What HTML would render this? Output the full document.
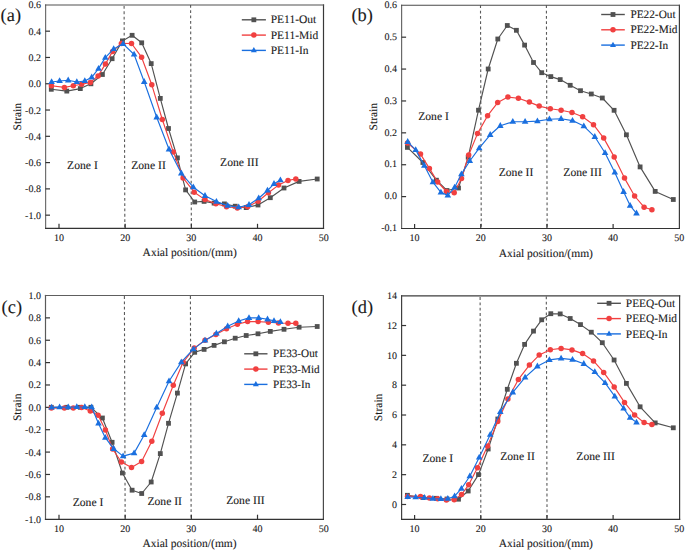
<!DOCTYPE html>
<html><head><meta charset="utf-8"><style>
html,body{margin:0;padding:0;background:#fff;}
svg{display:block;}
text{font-family:"Liberation Serif",serif;fill:#1a1a1a;text-rendering:geometricPrecision;stroke:#1a1a1a;stroke-width:0.1px;}
</style></head><body>
<svg width="685" height="551" viewBox="0 0 685 551">
<rect width="685" height="551" fill="#fff"/>
<line x1="124.1" y1="4.9" x2="124.85" y2="228.3" stroke="#5a5a5a" stroke-width="1.1" stroke-dasharray="2.8 2.53" stroke-dashoffset="-1.1"/>
<line x1="190.6" y1="4.9" x2="191.35" y2="228.3" stroke="#5a5a5a" stroke-width="1.1" stroke-dasharray="2.8 2.53" stroke-dashoffset="0"/>
<line x1="45.6" y1="4.4" x2="45.6" y2="229" stroke="#707070" stroke-width="1.2"/>
<line x1="323.5" y1="4.4" x2="323.5" y2="229" stroke="#383838" stroke-width="1.2"/>
<line x1="45" y1="5" x2="324.1" y2="5" stroke="#505050" stroke-width="1.2"/>
<line x1="45" y1="228.4" x2="324.1" y2="228.4" stroke="#333" stroke-width="1.2"/>
<text x="40.9" y="8.4" text-anchor="end" font-size="10.0">0.6</text>
<line x1="45.5" y1="31.18" x2="50" y2="31.18" stroke="#333" stroke-width="1.2"/>
<text x="40.9" y="34.68" text-anchor="end" font-size="10.0">0.4</text>
<line x1="45.5" y1="57.46" x2="50" y2="57.46" stroke="#333" stroke-width="1.2"/>
<text x="40.9" y="60.96" text-anchor="end" font-size="10.0">0.2</text>
<line x1="45.5" y1="83.75" x2="50" y2="83.75" stroke="#333" stroke-width="1.2"/>
<text x="40.9" y="87.25" text-anchor="end" font-size="10.0">0.0</text>
<line x1="45.5" y1="110.03" x2="50" y2="110.03" stroke="#333" stroke-width="1.2"/>
<text x="40.9" y="113.53" text-anchor="end" font-size="10.0">-0.2</text>
<line x1="45.5" y1="136.31" x2="50" y2="136.31" stroke="#333" stroke-width="1.2"/>
<text x="40.9" y="139.81" text-anchor="end" font-size="10.0">-0.4</text>
<line x1="45.5" y1="162.59" x2="50" y2="162.59" stroke="#333" stroke-width="1.2"/>
<text x="40.9" y="166.09" text-anchor="end" font-size="10.0">-0.6</text>
<line x1="45.5" y1="188.88" x2="50" y2="188.88" stroke="#333" stroke-width="1.2"/>
<text x="40.9" y="192.38" text-anchor="end" font-size="10.0">-0.8</text>
<line x1="45.5" y1="215.16" x2="50" y2="215.16" stroke="#333" stroke-width="1.2"/>
<text x="40.9" y="218.66" text-anchor="end" font-size="10.0">-1.0</text>
<line x1="59" y1="228.3" x2="59" y2="223.8" stroke="#333" stroke-width="1.2"/>
<text x="59" y="241.3" text-anchor="middle" font-size="10.0">10</text>
<line x1="125.17" y1="228.3" x2="125.17" y2="223.8" stroke="#333" stroke-width="1.2"/>
<text x="125.17" y="241.3" text-anchor="middle" font-size="10.0">20</text>
<line x1="191.34" y1="228.3" x2="191.34" y2="223.8" stroke="#333" stroke-width="1.2"/>
<text x="191.34" y="241.3" text-anchor="middle" font-size="10.0">30</text>
<line x1="257.51" y1="228.3" x2="257.51" y2="223.8" stroke="#333" stroke-width="1.2"/>
<text x="257.51" y="241.3" text-anchor="middle" font-size="10.0">40</text>
<text x="323.68" y="241.3" text-anchor="middle" font-size="10.0">50</text>
<polyline points="51.3,89.3 66.8,91.1 80.3,88.6 90.9,83.8 102.4,74.5 112.1,58.7 122.4,40.9 132.1,35.3 141.7,42.8 151.2,63.6 160.3,98.4 168.5,128.5 177.4,157.9 185.6,189.9 194.7,202 204.1,201.4 214.1,203.1 224.4,203.9 235.2,206.2 246.2,207.6 258,205 270.3,197.7 284,188 299.1,181.4 317.2,179" fill="none" stroke="#515151" stroke-width="1.15" stroke-linejoin="round"/>
<rect x="48.9" y="86.9" width="4.8" height="4.8" fill="#515151"/>
<rect x="64.4" y="88.7" width="4.8" height="4.8" fill="#515151"/>
<rect x="77.9" y="86.2" width="4.8" height="4.8" fill="#515151"/>
<rect x="88.5" y="81.4" width="4.8" height="4.8" fill="#515151"/>
<rect x="100" y="72.1" width="4.8" height="4.8" fill="#515151"/>
<rect x="109.7" y="56.3" width="4.8" height="4.8" fill="#515151"/>
<rect x="120" y="38.5" width="4.8" height="4.8" fill="#515151"/>
<rect x="129.7" y="32.9" width="4.8" height="4.8" fill="#515151"/>
<rect x="139.3" y="40.4" width="4.8" height="4.8" fill="#515151"/>
<rect x="148.8" y="61.2" width="4.8" height="4.8" fill="#515151"/>
<rect x="157.9" y="96" width="4.8" height="4.8" fill="#515151"/>
<rect x="166.1" y="126.1" width="4.8" height="4.8" fill="#515151"/>
<rect x="175" y="155.5" width="4.8" height="4.8" fill="#515151"/>
<rect x="183.2" y="187.5" width="4.8" height="4.8" fill="#515151"/>
<rect x="192.3" y="199.6" width="4.8" height="4.8" fill="#515151"/>
<rect x="201.7" y="199" width="4.8" height="4.8" fill="#515151"/>
<rect x="211.7" y="200.7" width="4.8" height="4.8" fill="#515151"/>
<rect x="222" y="201.5" width="4.8" height="4.8" fill="#515151"/>
<rect x="232.8" y="203.8" width="4.8" height="4.8" fill="#515151"/>
<rect x="243.8" y="205.2" width="4.8" height="4.8" fill="#515151"/>
<rect x="255.6" y="202.6" width="4.8" height="4.8" fill="#515151"/>
<rect x="267.9" y="195.3" width="4.8" height="4.8" fill="#515151"/>
<rect x="281.6" y="185.6" width="4.8" height="4.8" fill="#515151"/>
<rect x="296.7" y="179" width="4.8" height="4.8" fill="#515151"/>
<rect x="314.8" y="176.6" width="4.8" height="4.8" fill="#515151"/>
<polyline points="51.4,85.7 64.4,87.4 73.3,85.7 81.6,84.2 90.3,82.5 98.1,75.9 105.4,64.1 112.6,51.4 121.4,43.4 131.5,43.5 141.6,57.2 151.8,84.8 162.3,119.5 173.3,151.9 183.1,177.9 194.2,192.2 205,199.6 215.9,203.7 226.5,206.8 237.4,208 247.6,206.8 258.1,201.2 268.4,192.7 278.5,185.1 288,180.4 295.8,179" fill="none" stroke="#F14040" stroke-width="1.15" stroke-linejoin="round"/>
<circle cx="51.4" cy="85.7" r="2.75" fill="#F14040"/>
<circle cx="64.4" cy="87.4" r="2.75" fill="#F14040"/>
<circle cx="73.3" cy="85.7" r="2.75" fill="#F14040"/>
<circle cx="81.6" cy="84.2" r="2.75" fill="#F14040"/>
<circle cx="90.3" cy="82.5" r="2.75" fill="#F14040"/>
<circle cx="98.1" cy="75.9" r="2.75" fill="#F14040"/>
<circle cx="105.4" cy="64.1" r="2.75" fill="#F14040"/>
<circle cx="112.6" cy="51.4" r="2.75" fill="#F14040"/>
<circle cx="121.4" cy="43.4" r="2.75" fill="#F14040"/>
<circle cx="131.5" cy="43.5" r="2.75" fill="#F14040"/>
<circle cx="141.6" cy="57.2" r="2.75" fill="#F14040"/>
<circle cx="151.8" cy="84.8" r="2.75" fill="#F14040"/>
<circle cx="162.3" cy="119.5" r="2.75" fill="#F14040"/>
<circle cx="173.3" cy="151.9" r="2.75" fill="#F14040"/>
<circle cx="183.1" cy="177.9" r="2.75" fill="#F14040"/>
<circle cx="194.2" cy="192.2" r="2.75" fill="#F14040"/>
<circle cx="205" cy="199.6" r="2.75" fill="#F14040"/>
<circle cx="215.9" cy="203.7" r="2.75" fill="#F14040"/>
<circle cx="226.5" cy="206.8" r="2.75" fill="#F14040"/>
<circle cx="237.4" cy="208" r="2.75" fill="#F14040"/>
<circle cx="247.6" cy="206.8" r="2.75" fill="#F14040"/>
<circle cx="258.1" cy="201.2" r="2.75" fill="#F14040"/>
<circle cx="268.4" cy="192.7" r="2.75" fill="#F14040"/>
<circle cx="278.5" cy="185.1" r="2.75" fill="#F14040"/>
<circle cx="288" cy="180.4" r="2.75" fill="#F14040"/>
<circle cx="295.8" cy="179" r="2.75" fill="#F14040"/>
<polyline points="51.6,82 59.6,81 68.2,80.3 76.8,82 84.8,81 91.7,77.3 98.5,68.6 105.3,57.6 113.7,48.9 123.1,43.8 134.1,54.5 144.2,81.8 156.7,117.3 169,149.3 181.3,173.3 193.3,187.2 205,195.8 216.4,201.6 227.7,205.6 238.7,207.2 249,204.8 258.7,198.2 267.5,190.5 274,183.8 280.4,180.1" fill="none" stroke="#1A6FDF" stroke-width="1.15" stroke-linejoin="round"/>
<path d="M51.6 78.3L54.9 84.1L48.3 84.1Z" fill="#1A6FDF"/>
<path d="M59.6 77.3L62.9 83.1L56.3 83.1Z" fill="#1A6FDF"/>
<path d="M68.2 76.6L71.5 82.4L64.9 82.4Z" fill="#1A6FDF"/>
<path d="M76.8 78.3L80.1 84.1L73.5 84.1Z" fill="#1A6FDF"/>
<path d="M84.8 77.3L88.1 83.1L81.5 83.1Z" fill="#1A6FDF"/>
<path d="M91.7 73.6L95 79.4L88.4 79.4Z" fill="#1A6FDF"/>
<path d="M98.5 64.9L101.8 70.7L95.2 70.7Z" fill="#1A6FDF"/>
<path d="M105.3 53.9L108.6 59.7L102 59.7Z" fill="#1A6FDF"/>
<path d="M113.7 45.2L117 51L110.4 51Z" fill="#1A6FDF"/>
<path d="M123.1 40.1L126.4 45.9L119.8 45.9Z" fill="#1A6FDF"/>
<path d="M134.1 50.8L137.4 56.6L130.8 56.6Z" fill="#1A6FDF"/>
<path d="M144.2 78.1L147.5 83.9L140.9 83.9Z" fill="#1A6FDF"/>
<path d="M156.7 113.6L160 119.4L153.4 119.4Z" fill="#1A6FDF"/>
<path d="M169 145.6L172.3 151.4L165.7 151.4Z" fill="#1A6FDF"/>
<path d="M181.3 169.6L184.6 175.4L178 175.4Z" fill="#1A6FDF"/>
<path d="M193.3 183.5L196.6 189.3L190 189.3Z" fill="#1A6FDF"/>
<path d="M205 192.1L208.3 197.9L201.7 197.9Z" fill="#1A6FDF"/>
<path d="M216.4 197.9L219.7 203.7L213.1 203.7Z" fill="#1A6FDF"/>
<path d="M227.7 201.9L231 207.7L224.4 207.7Z" fill="#1A6FDF"/>
<path d="M238.7 203.5L242 209.3L235.4 209.3Z" fill="#1A6FDF"/>
<path d="M249 201.1L252.3 206.9L245.7 206.9Z" fill="#1A6FDF"/>
<path d="M258.7 194.5L262 200.3L255.4 200.3Z" fill="#1A6FDF"/>
<path d="M267.5 186.8L270.8 192.6L264.2 192.6Z" fill="#1A6FDF"/>
<path d="M274 180.1L277.3 185.9L270.7 185.9Z" fill="#1A6FDF"/>
<path d="M280.4 176.4L283.7 182.2L277.1 182.2Z" fill="#1A6FDF"/>
<line x1="241.8" y1="19.8" x2="265.9" y2="19.8" stroke="#515151" stroke-width="1.4"/>
<rect x="251.45" y="17.4" width="4.8" height="4.8" fill="#515151"/>
<text x="270.7" y="23.4" font-size="11.5">PE11-Out</text>
<line x1="241.8" y1="35.1" x2="265.9" y2="35.1" stroke="#F14040" stroke-width="1.4"/>
<circle cx="253.85" cy="35.1" r="2.75" fill="#F14040"/>
<text x="270.7" y="38.7" font-size="11.5">PE11-Mid</text>
<line x1="241.8" y1="50.4" x2="265.9" y2="50.4" stroke="#1A6FDF" stroke-width="1.4"/>
<path d="M253.85 47L256.85 52.2L250.85 52.2Z" fill="#1A6FDF"/>
<text x="270.7" y="54" font-size="11.5">PE11-In</text>
<text x="67.1" y="168.6" font-size="11.65">Zone I</text>
<text x="131.2" y="168.6" font-size="11.65">Zone II</text>
<text x="220.1" y="166" font-size="11.65">Zone III</text>
<text x="0.6" y="20.8" font-size="18.4">(a)</text>
<text transform="translate(20.8,116.7) rotate(-90)" text-anchor="middle" font-size="11.5">Strain</text>
<text x="189.7" y="256.2" text-anchor="middle" font-size="11.5">Axial position/(mm)</text>
<line x1="480.5" y1="5.3" x2="481.25" y2="228.5" stroke="#5a5a5a" stroke-width="1.1" stroke-dasharray="2.8 2.53" stroke-dashoffset="0"/>
<line x1="546.4" y1="5.3" x2="547.15" y2="228.5" stroke="#5a5a5a" stroke-width="1.1" stroke-dasharray="2.8 2.53" stroke-dashoffset="0"/>
<line x1="401.6" y1="4.65" x2="401.6" y2="229.1" stroke="#6a6a6a" stroke-width="1.2"/>
<line x1="679.4" y1="4.65" x2="679.4" y2="229.1" stroke="#3c3c3c" stroke-width="1.2"/>
<line x1="401" y1="5.25" x2="680" y2="5.25" stroke="#4a4a4a" stroke-width="1.2"/>
<line x1="401" y1="228.5" x2="680" y2="228.5" stroke="#333" stroke-width="1.2"/>
<text x="397" y="8" text-anchor="end" font-size="10.0">0.6</text>
<line x1="401.6" y1="37.19" x2="406.1" y2="37.19" stroke="#333" stroke-width="1.2"/>
<text x="397" y="39.89" text-anchor="end" font-size="10.0">0.5</text>
<line x1="401.6" y1="69.07" x2="406.1" y2="69.07" stroke="#333" stroke-width="1.2"/>
<text x="397" y="71.77" text-anchor="end" font-size="10.0">0.4</text>
<line x1="401.6" y1="100.96" x2="406.1" y2="100.96" stroke="#333" stroke-width="1.2"/>
<text x="397" y="103.66" text-anchor="end" font-size="10.0">0.3</text>
<line x1="401.6" y1="132.84" x2="406.1" y2="132.84" stroke="#333" stroke-width="1.2"/>
<text x="397" y="135.54" text-anchor="end" font-size="10.0">0.2</text>
<line x1="401.6" y1="164.73" x2="406.1" y2="164.73" stroke="#333" stroke-width="1.2"/>
<text x="397" y="167.43" text-anchor="end" font-size="10.0">0.1</text>
<line x1="401.6" y1="196.61" x2="406.1" y2="196.61" stroke="#333" stroke-width="1.2"/>
<text x="397" y="199.31" text-anchor="end" font-size="10.0">0.0</text>
<text x="397" y="231.2" text-anchor="end" font-size="10.0">-0.1</text>
<line x1="414.6" y1="228.5" x2="414.6" y2="224" stroke="#333" stroke-width="1.2"/>
<text x="414.6" y="241.1" text-anchor="middle" font-size="10.0">10</text>
<line x1="480.77" y1="228.5" x2="480.77" y2="224" stroke="#333" stroke-width="1.2"/>
<text x="480.77" y="241.1" text-anchor="middle" font-size="10.0">20</text>
<line x1="546.94" y1="228.5" x2="546.94" y2="224" stroke="#333" stroke-width="1.2"/>
<text x="546.94" y="241.1" text-anchor="middle" font-size="10.0">30</text>
<line x1="613.11" y1="228.5" x2="613.11" y2="224" stroke="#333" stroke-width="1.2"/>
<text x="613.11" y="241.1" text-anchor="middle" font-size="10.0">40</text>
<text x="679.28" y="241.1" text-anchor="middle" font-size="10.0">50</text>
<polyline points="407.4,147.4 422.9,162.5 436.4,180.2 447,190.5 458.5,188 468.2,157.2 478.5,110.2 488.2,69 497.8,39 507.3,25.5 516.4,30.3 524.6,45.1 533.5,62.5 541.7,72.7 550.8,76.6 560.2,79.6 570.2,85.3 580.5,90.7 591.3,94 602.3,98 614.1,110.3 626.4,134.8 640.1,166.9 655.2,191.4 673.3,199.5" fill="none" stroke="#515151" stroke-width="1.15" stroke-linejoin="round"/>
<rect x="405" y="145" width="4.8" height="4.8" fill="#515151"/>
<rect x="420.5" y="160.1" width="4.8" height="4.8" fill="#515151"/>
<rect x="434" y="177.8" width="4.8" height="4.8" fill="#515151"/>
<rect x="444.6" y="188.1" width="4.8" height="4.8" fill="#515151"/>
<rect x="456.1" y="185.6" width="4.8" height="4.8" fill="#515151"/>
<rect x="465.8" y="154.8" width="4.8" height="4.8" fill="#515151"/>
<rect x="476.1" y="107.8" width="4.8" height="4.8" fill="#515151"/>
<rect x="485.8" y="66.6" width="4.8" height="4.8" fill="#515151"/>
<rect x="495.4" y="36.6" width="4.8" height="4.8" fill="#515151"/>
<rect x="504.9" y="23.1" width="4.8" height="4.8" fill="#515151"/>
<rect x="514" y="27.9" width="4.8" height="4.8" fill="#515151"/>
<rect x="522.2" y="42.7" width="4.8" height="4.8" fill="#515151"/>
<rect x="531.1" y="60.1" width="4.8" height="4.8" fill="#515151"/>
<rect x="539.3" y="70.3" width="4.8" height="4.8" fill="#515151"/>
<rect x="548.4" y="74.2" width="4.8" height="4.8" fill="#515151"/>
<rect x="557.8" y="77.2" width="4.8" height="4.8" fill="#515151"/>
<rect x="567.8" y="82.9" width="4.8" height="4.8" fill="#515151"/>
<rect x="578.1" y="88.3" width="4.8" height="4.8" fill="#515151"/>
<rect x="588.9" y="91.6" width="4.8" height="4.8" fill="#515151"/>
<rect x="599.9" y="95.6" width="4.8" height="4.8" fill="#515151"/>
<rect x="611.7" y="107.9" width="4.8" height="4.8" fill="#515151"/>
<rect x="624" y="132.4" width="4.8" height="4.8" fill="#515151"/>
<rect x="637.7" y="164.5" width="4.8" height="4.8" fill="#515151"/>
<rect x="652.8" y="189" width="4.8" height="4.8" fill="#515151"/>
<rect x="670.9" y="197.1" width="4.8" height="4.8" fill="#515151"/>
<polyline points="407.5,143 420.5,154.1 429.4,168.4 437.7,182 446.4,191.5 454.2,192.7 461.5,178.4 468.7,155 477.5,133.6 487.6,115.7 497.7,102.6 507.9,97.1 518.4,98.2 529.4,102.1 539.2,106.1 550.3,108.8 561.1,110.3 572,112.5 582.6,116.8 593.5,124.7 603.7,138.1 614.2,156.9 624.5,178.1 634.6,196 644.1,207.2 651.9,209.8" fill="none" stroke="#F14040" stroke-width="1.15" stroke-linejoin="round"/>
<circle cx="407.5" cy="143" r="2.75" fill="#F14040"/>
<circle cx="420.5" cy="154.1" r="2.75" fill="#F14040"/>
<circle cx="429.4" cy="168.4" r="2.75" fill="#F14040"/>
<circle cx="437.7" cy="182" r="2.75" fill="#F14040"/>
<circle cx="446.4" cy="191.5" r="2.75" fill="#F14040"/>
<circle cx="454.2" cy="192.7" r="2.75" fill="#F14040"/>
<circle cx="461.5" cy="178.4" r="2.75" fill="#F14040"/>
<circle cx="468.7" cy="155" r="2.75" fill="#F14040"/>
<circle cx="477.5" cy="133.6" r="2.75" fill="#F14040"/>
<circle cx="487.6" cy="115.7" r="2.75" fill="#F14040"/>
<circle cx="497.7" cy="102.6" r="2.75" fill="#F14040"/>
<circle cx="507.9" cy="97.1" r="2.75" fill="#F14040"/>
<circle cx="518.4" cy="98.2" r="2.75" fill="#F14040"/>
<circle cx="529.4" cy="102.1" r="2.75" fill="#F14040"/>
<circle cx="539.2" cy="106.1" r="2.75" fill="#F14040"/>
<circle cx="550.3" cy="108.8" r="2.75" fill="#F14040"/>
<circle cx="561.1" cy="110.3" r="2.75" fill="#F14040"/>
<circle cx="572" cy="112.5" r="2.75" fill="#F14040"/>
<circle cx="582.6" cy="116.8" r="2.75" fill="#F14040"/>
<circle cx="593.5" cy="124.7" r="2.75" fill="#F14040"/>
<circle cx="603.7" cy="138.1" r="2.75" fill="#F14040"/>
<circle cx="614.2" cy="156.9" r="2.75" fill="#F14040"/>
<circle cx="624.5" cy="178.1" r="2.75" fill="#F14040"/>
<circle cx="634.6" cy="196" r="2.75" fill="#F14040"/>
<circle cx="644.1" cy="207.2" r="2.75" fill="#F14040"/>
<circle cx="651.9" cy="209.8" r="2.75" fill="#F14040"/>
<polyline points="407.7,141.8 415.7,149.9 424.3,165.6 432.9,182.2 440.9,192.4 447.8,195.4 454.6,187.4 461.4,174.1 469.8,161 479.2,148.1 490.2,134.8 500.3,125.8 512.8,121.7 525.1,121.7 537.4,121.1 549.4,119.2 561.1,118.8 572.5,120.6 583.8,126.1 594.8,136.8 605.1,153 614.8,172.5 623.6,191.8 630.1,205.6 636.5,213.3" fill="none" stroke="#1A6FDF" stroke-width="1.15" stroke-linejoin="round"/>
<path d="M407.7 138.1L411 143.9L404.4 143.9Z" fill="#1A6FDF"/>
<path d="M415.7 146.2L419 152L412.4 152Z" fill="#1A6FDF"/>
<path d="M424.3 161.9L427.6 167.7L421 167.7Z" fill="#1A6FDF"/>
<path d="M432.9 178.5L436.2 184.3L429.6 184.3Z" fill="#1A6FDF"/>
<path d="M440.9 188.7L444.2 194.5L437.6 194.5Z" fill="#1A6FDF"/>
<path d="M447.8 191.7L451.1 197.5L444.5 197.5Z" fill="#1A6FDF"/>
<path d="M454.6 183.7L457.9 189.5L451.3 189.5Z" fill="#1A6FDF"/>
<path d="M461.4 170.4L464.7 176.2L458.1 176.2Z" fill="#1A6FDF"/>
<path d="M469.8 157.3L473.1 163.1L466.5 163.1Z" fill="#1A6FDF"/>
<path d="M479.2 144.4L482.5 150.2L475.9 150.2Z" fill="#1A6FDF"/>
<path d="M490.2 131.1L493.5 136.9L486.9 136.9Z" fill="#1A6FDF"/>
<path d="M500.3 122.1L503.6 127.9L497 127.9Z" fill="#1A6FDF"/>
<path d="M512.8 118L516.1 123.8L509.5 123.8Z" fill="#1A6FDF"/>
<path d="M525.1 118L528.4 123.8L521.8 123.8Z" fill="#1A6FDF"/>
<path d="M537.4 117.4L540.7 123.2L534.1 123.2Z" fill="#1A6FDF"/>
<path d="M549.4 115.5L552.7 121.3L546.1 121.3Z" fill="#1A6FDF"/>
<path d="M561.1 115.1L564.4 120.9L557.8 120.9Z" fill="#1A6FDF"/>
<path d="M572.5 116.9L575.8 122.7L569.2 122.7Z" fill="#1A6FDF"/>
<path d="M583.8 122.4L587.1 128.2L580.5 128.2Z" fill="#1A6FDF"/>
<path d="M594.8 133.1L598.1 138.9L591.5 138.9Z" fill="#1A6FDF"/>
<path d="M605.1 149.3L608.4 155.1L601.8 155.1Z" fill="#1A6FDF"/>
<path d="M614.8 168.8L618.1 174.6L611.5 174.6Z" fill="#1A6FDF"/>
<path d="M623.6 188.1L626.9 193.9L620.3 193.9Z" fill="#1A6FDF"/>
<path d="M630.1 201.9L633.4 207.7L626.8 207.7Z" fill="#1A6FDF"/>
<path d="M636.5 209.6L639.8 215.4L633.2 215.4Z" fill="#1A6FDF"/>
<line x1="601.2" y1="14.5" x2="624.8" y2="14.5" stroke="#515151" stroke-width="1.4"/>
<rect x="610.6" y="12.1" width="4.8" height="4.8" fill="#515151"/>
<text x="630.4" y="18.1" font-size="11.3">PE22-Out</text>
<line x1="601.2" y1="29.8" x2="624.8" y2="29.8" stroke="#F14040" stroke-width="1.4"/>
<circle cx="613" cy="29.8" r="2.75" fill="#F14040"/>
<text x="630.4" y="33.4" font-size="11.3">PE22-Mid</text>
<line x1="601.2" y1="45.1" x2="624.8" y2="45.1" stroke="#1A6FDF" stroke-width="1.4"/>
<path d="M613 41.7L616 46.9L610 46.9Z" fill="#1A6FDF"/>
<text x="630.4" y="48.7" font-size="11.3">PE22-In</text>
<text x="418.2" y="120" font-size="11.65">Zone I</text>
<text x="498.7" y="175.5" font-size="11.65">Zone II</text>
<text x="563.3" y="175.5" font-size="11.65">Zone III</text>
<text x="351.5" y="21" font-size="18.4">(b)</text>
<text transform="translate(376.9,116.7) rotate(-90)" text-anchor="middle" font-size="11.5">Strain</text>
<text x="545.8" y="256.7" text-anchor="middle" font-size="11.5">Axial position/(mm)</text>
<line x1="124.4" y1="295.5" x2="125.15" y2="519.2" stroke="#5a5a5a" stroke-width="1.1" stroke-dasharray="2.8 2.53" stroke-dashoffset="-0.6"/>
<line x1="190.4" y1="295.5" x2="191.15" y2="519.2" stroke="#5a5a5a" stroke-width="1.1" stroke-dasharray="2.8 2.53" stroke-dashoffset="-0.6"/>
<line x1="45.5" y1="294.9" x2="45.5" y2="519.9" stroke="#5a5a5a" stroke-width="1.2"/>
<line x1="323.4" y1="294.9" x2="323.4" y2="519.9" stroke="#4a4a4a" stroke-width="1.2"/>
<line x1="44.9" y1="295.5" x2="324" y2="295.5" stroke="#5e5e5e" stroke-width="1.2"/>
<line x1="44.9" y1="519.3" x2="324" y2="519.3" stroke="#333" stroke-width="1.2"/>
<text x="40.9" y="299" text-anchor="end" font-size="10.0">1.0</text>
<line x1="45.5" y1="317.87" x2="50" y2="317.87" stroke="#333" stroke-width="1.2"/>
<text x="40.9" y="321.37" text-anchor="end" font-size="10.0">0.8</text>
<line x1="45.5" y1="340.24" x2="50" y2="340.24" stroke="#333" stroke-width="1.2"/>
<text x="40.9" y="343.74" text-anchor="end" font-size="10.0">0.6</text>
<line x1="45.5" y1="362.61" x2="50" y2="362.61" stroke="#333" stroke-width="1.2"/>
<text x="40.9" y="366.11" text-anchor="end" font-size="10.0">0.4</text>
<line x1="45.5" y1="384.98" x2="50" y2="384.98" stroke="#333" stroke-width="1.2"/>
<text x="40.9" y="388.48" text-anchor="end" font-size="10.0">0.2</text>
<line x1="45.5" y1="407.35" x2="50" y2="407.35" stroke="#333" stroke-width="1.2"/>
<text x="40.9" y="410.85" text-anchor="end" font-size="10.0">0.0</text>
<line x1="45.5" y1="429.72" x2="50" y2="429.72" stroke="#333" stroke-width="1.2"/>
<text x="40.9" y="433.22" text-anchor="end" font-size="10.0">-0.2</text>
<line x1="45.5" y1="452.09" x2="50" y2="452.09" stroke="#333" stroke-width="1.2"/>
<text x="40.9" y="455.59" text-anchor="end" font-size="10.0">-0.4</text>
<line x1="45.5" y1="474.46" x2="50" y2="474.46" stroke="#333" stroke-width="1.2"/>
<text x="40.9" y="477.96" text-anchor="end" font-size="10.0">-0.6</text>
<line x1="45.5" y1="496.83" x2="50" y2="496.83" stroke="#333" stroke-width="1.2"/>
<text x="40.9" y="500.33" text-anchor="end" font-size="10.0">-0.8</text>
<text x="40.9" y="522.7" text-anchor="end" font-size="10.0">-1.0</text>
<line x1="59" y1="519.2" x2="59" y2="514.7" stroke="#333" stroke-width="1.2"/>
<text x="59" y="532.2" text-anchor="middle" font-size="10.0">10</text>
<line x1="125.17" y1="519.2" x2="125.17" y2="514.7" stroke="#333" stroke-width="1.2"/>
<text x="125.17" y="532.2" text-anchor="middle" font-size="10.0">20</text>
<line x1="191.34" y1="519.2" x2="191.34" y2="514.7" stroke="#333" stroke-width="1.2"/>
<text x="191.34" y="532.2" text-anchor="middle" font-size="10.0">30</text>
<line x1="257.51" y1="519.2" x2="257.51" y2="514.7" stroke="#333" stroke-width="1.2"/>
<text x="257.51" y="532.2" text-anchor="middle" font-size="10.0">40</text>
<text x="323.68" y="532.2" text-anchor="middle" font-size="10.0">50</text>
<polyline points="51.3,407.3 66.8,407.3 80.3,407.3 90.9,407.3 102.4,418 112.1,442.3 122.4,473 132.1,490.2 141.7,493.5 151.2,482 160.3,453.6 168.5,423.3 177.4,393.1 185.6,363.9 194.7,352.3 204.1,349.4 214.1,345.4 224.4,341.8 235.2,338.2 246.2,335.5 258,333.8 270.3,331.4 284,329.3 299.1,327.2 317.2,326.5" fill="none" stroke="#515151" stroke-width="1.15" stroke-linejoin="round"/>
<rect x="48.9" y="404.9" width="4.8" height="4.8" fill="#515151"/>
<rect x="64.4" y="404.9" width="4.8" height="4.8" fill="#515151"/>
<rect x="77.9" y="404.9" width="4.8" height="4.8" fill="#515151"/>
<rect x="88.5" y="404.9" width="4.8" height="4.8" fill="#515151"/>
<rect x="100" y="415.6" width="4.8" height="4.8" fill="#515151"/>
<rect x="109.7" y="439.9" width="4.8" height="4.8" fill="#515151"/>
<rect x="120" y="470.6" width="4.8" height="4.8" fill="#515151"/>
<rect x="129.7" y="487.8" width="4.8" height="4.8" fill="#515151"/>
<rect x="139.3" y="491.1" width="4.8" height="4.8" fill="#515151"/>
<rect x="148.8" y="479.6" width="4.8" height="4.8" fill="#515151"/>
<rect x="157.9" y="451.2" width="4.8" height="4.8" fill="#515151"/>
<rect x="166.1" y="420.9" width="4.8" height="4.8" fill="#515151"/>
<rect x="175" y="390.7" width="4.8" height="4.8" fill="#515151"/>
<rect x="183.2" y="361.5" width="4.8" height="4.8" fill="#515151"/>
<rect x="192.3" y="349.9" width="4.8" height="4.8" fill="#515151"/>
<rect x="201.7" y="347" width="4.8" height="4.8" fill="#515151"/>
<rect x="211.7" y="343" width="4.8" height="4.8" fill="#515151"/>
<rect x="222" y="339.4" width="4.8" height="4.8" fill="#515151"/>
<rect x="232.8" y="335.8" width="4.8" height="4.8" fill="#515151"/>
<rect x="243.8" y="333.1" width="4.8" height="4.8" fill="#515151"/>
<rect x="255.6" y="331.4" width="4.8" height="4.8" fill="#515151"/>
<rect x="267.9" y="329" width="4.8" height="4.8" fill="#515151"/>
<rect x="281.6" y="326.9" width="4.8" height="4.8" fill="#515151"/>
<rect x="296.7" y="324.8" width="4.8" height="4.8" fill="#515151"/>
<rect x="314.8" y="324.1" width="4.8" height="4.8" fill="#515151"/>
<polyline points="51.4,408.1 64.4,408 73.3,408 81.6,407.5 90.3,411 98.1,415.2 105.4,430 112.6,449 121.4,462 131.5,467.5 141.6,461.5 151.8,441.3 162.3,413.3 173.3,385.2 183.1,362.3 194.2,348.1 205,340.3 215.9,334.5 226.5,328.7 237.4,324.2 247.6,321.6 258.1,321.6 268.4,322.3 278.5,323 288,323.3 295.8,323.3" fill="none" stroke="#F14040" stroke-width="1.15" stroke-linejoin="round"/>
<circle cx="51.4" cy="408.1" r="2.75" fill="#F14040"/>
<circle cx="64.4" cy="408" r="2.75" fill="#F14040"/>
<circle cx="73.3" cy="408" r="2.75" fill="#F14040"/>
<circle cx="81.6" cy="407.5" r="2.75" fill="#F14040"/>
<circle cx="90.3" cy="411" r="2.75" fill="#F14040"/>
<circle cx="98.1" cy="415.2" r="2.75" fill="#F14040"/>
<circle cx="105.4" cy="430" r="2.75" fill="#F14040"/>
<circle cx="112.6" cy="449" r="2.75" fill="#F14040"/>
<circle cx="121.4" cy="462" r="2.75" fill="#F14040"/>
<circle cx="131.5" cy="467.5" r="2.75" fill="#F14040"/>
<circle cx="141.6" cy="461.5" r="2.75" fill="#F14040"/>
<circle cx="151.8" cy="441.3" r="2.75" fill="#F14040"/>
<circle cx="162.3" cy="413.3" r="2.75" fill="#F14040"/>
<circle cx="173.3" cy="385.2" r="2.75" fill="#F14040"/>
<circle cx="183.1" cy="362.3" r="2.75" fill="#F14040"/>
<circle cx="194.2" cy="348.1" r="2.75" fill="#F14040"/>
<circle cx="205" cy="340.3" r="2.75" fill="#F14040"/>
<circle cx="215.9" cy="334.5" r="2.75" fill="#F14040"/>
<circle cx="226.5" cy="328.7" r="2.75" fill="#F14040"/>
<circle cx="237.4" cy="324.2" r="2.75" fill="#F14040"/>
<circle cx="247.6" cy="321.6" r="2.75" fill="#F14040"/>
<circle cx="258.1" cy="321.6" r="2.75" fill="#F14040"/>
<circle cx="268.4" cy="322.3" r="2.75" fill="#F14040"/>
<circle cx="278.5" cy="323" r="2.75" fill="#F14040"/>
<circle cx="288" cy="323.3" r="2.75" fill="#F14040"/>
<circle cx="295.8" cy="323.3" r="2.75" fill="#F14040"/>
<polyline points="51.6,407.4 59.6,407.1 68.2,407.1 76.8,407 84.8,407 91.7,407.2 98.5,423.5 105.3,437.7 113.7,448.8 123.1,456.1 134.1,453.1 144.2,435 156.7,407.5 169,381.2 181.3,362.1 193.3,349.1 205,340.4 216.4,333.5 227.7,326.3 238.7,321 249,317.9 258.7,317.9 267.5,319.3 274,320.9 280.4,322" fill="none" stroke="#1A6FDF" stroke-width="1.15" stroke-linejoin="round"/>
<path d="M51.6 403.7L54.9 409.5L48.3 409.5Z" fill="#1A6FDF"/>
<path d="M59.6 403.4L62.9 409.2L56.3 409.2Z" fill="#1A6FDF"/>
<path d="M68.2 403.4L71.5 409.2L64.9 409.2Z" fill="#1A6FDF"/>
<path d="M76.8 403.3L80.1 409.1L73.5 409.1Z" fill="#1A6FDF"/>
<path d="M84.8 403.3L88.1 409.1L81.5 409.1Z" fill="#1A6FDF"/>
<path d="M91.7 403.5L95 409.3L88.4 409.3Z" fill="#1A6FDF"/>
<path d="M98.5 419.8L101.8 425.6L95.2 425.6Z" fill="#1A6FDF"/>
<path d="M105.3 434L108.6 439.8L102 439.8Z" fill="#1A6FDF"/>
<path d="M113.7 445.1L117 450.9L110.4 450.9Z" fill="#1A6FDF"/>
<path d="M123.1 452.4L126.4 458.2L119.8 458.2Z" fill="#1A6FDF"/>
<path d="M134.1 449.4L137.4 455.2L130.8 455.2Z" fill="#1A6FDF"/>
<path d="M144.2 431.3L147.5 437.1L140.9 437.1Z" fill="#1A6FDF"/>
<path d="M156.7 403.8L160 409.6L153.4 409.6Z" fill="#1A6FDF"/>
<path d="M169 377.5L172.3 383.3L165.7 383.3Z" fill="#1A6FDF"/>
<path d="M181.3 358.4L184.6 364.2L178 364.2Z" fill="#1A6FDF"/>
<path d="M193.3 345.4L196.6 351.2L190 351.2Z" fill="#1A6FDF"/>
<path d="M205 336.7L208.3 342.5L201.7 342.5Z" fill="#1A6FDF"/>
<path d="M216.4 329.8L219.7 335.6L213.1 335.6Z" fill="#1A6FDF"/>
<path d="M227.7 322.6L231 328.4L224.4 328.4Z" fill="#1A6FDF"/>
<path d="M238.7 317.3L242 323.1L235.4 323.1Z" fill="#1A6FDF"/>
<path d="M249 314.2L252.3 320L245.7 320Z" fill="#1A6FDF"/>
<path d="M258.7 314.2L262 320L255.4 320Z" fill="#1A6FDF"/>
<path d="M267.5 315.6L270.8 321.4L264.2 321.4Z" fill="#1A6FDF"/>
<path d="M274 317.2L277.3 323L270.7 323Z" fill="#1A6FDF"/>
<path d="M280.4 318.3L283.7 324.1L277.1 324.1Z" fill="#1A6FDF"/>
<line x1="244.2" y1="353.8" x2="267.5" y2="353.8" stroke="#515151" stroke-width="1.4"/>
<rect x="253.45" y="351.4" width="4.8" height="4.8" fill="#515151"/>
<text x="273.1" y="357.4" font-size="11.2">PE33-Out</text>
<line x1="244.2" y1="369.1" x2="267.5" y2="369.1" stroke="#F14040" stroke-width="1.4"/>
<circle cx="255.85" cy="369.1" r="2.75" fill="#F14040"/>
<text x="273.1" y="372.7" font-size="11.2">PE33-Mid</text>
<line x1="244.2" y1="384.4" x2="267.5" y2="384.4" stroke="#1A6FDF" stroke-width="1.4"/>
<path d="M255.85 381L258.85 386.2L252.85 386.2Z" fill="#1A6FDF"/>
<text x="273.1" y="388" font-size="11.2">PE33-In</text>
<text x="72.7" y="505.8" font-size="11.65">Zone I</text>
<text x="147.4" y="505.4" font-size="11.65">Zone II</text>
<text x="226.2" y="504.3" font-size="11.65">Zone III</text>
<text x="1.6" y="312.6" font-size="18.4">(c)</text>
<text transform="translate(20.8,407.3) rotate(-90)" text-anchor="middle" font-size="11.5">Strain</text>
<text x="189.5" y="546.5" text-anchor="middle" font-size="11.5">Axial position/(mm)</text>
<line x1="480.1" y1="295.7" x2="480.85" y2="519.4" stroke="#5a5a5a" stroke-width="1.1" stroke-dasharray="2.8 2.53" stroke-dashoffset="-1.4"/>
<line x1="546.3" y1="295.7" x2="547.05" y2="519.4" stroke="#5a5a5a" stroke-width="1.1" stroke-dasharray="2.8 2.53" stroke-dashoffset="-0.7"/>
<line x1="401.6" y1="295.35" x2="401.6" y2="520" stroke="#404040" stroke-width="1.2"/>
<line x1="679.6" y1="295.35" x2="679.6" y2="520" stroke="#3c3c3c" stroke-width="1.2"/>
<line x1="401" y1="295.95" x2="680.2" y2="295.95" stroke="#3c3c3c" stroke-width="1.2"/>
<line x1="401" y1="519.4" x2="680.2" y2="519.4" stroke="#333" stroke-width="1.2"/>
<text x="397" y="298.9" text-anchor="end" font-size="10.0">14</text>
<line x1="401.6" y1="325.53" x2="406.1" y2="325.53" stroke="#333" stroke-width="1.2"/>
<text x="397" y="328.73" text-anchor="end" font-size="10.0">12</text>
<line x1="401.6" y1="355.35" x2="406.1" y2="355.35" stroke="#333" stroke-width="1.2"/>
<text x="397" y="358.55" text-anchor="end" font-size="10.0">10</text>
<line x1="401.6" y1="385.18" x2="406.1" y2="385.18" stroke="#333" stroke-width="1.2"/>
<text x="397" y="388.38" text-anchor="end" font-size="10.0">8</text>
<line x1="401.6" y1="415.01" x2="406.1" y2="415.01" stroke="#333" stroke-width="1.2"/>
<text x="397" y="418.21" text-anchor="end" font-size="10.0">6</text>
<line x1="401.6" y1="444.83" x2="406.1" y2="444.83" stroke="#333" stroke-width="1.2"/>
<text x="397" y="448.03" text-anchor="end" font-size="10.0">4</text>
<line x1="401.6" y1="474.66" x2="406.1" y2="474.66" stroke="#333" stroke-width="1.2"/>
<text x="397" y="477.86" text-anchor="end" font-size="10.0">2</text>
<line x1="401.6" y1="504.49" x2="406.1" y2="504.49" stroke="#333" stroke-width="1.2"/>
<text x="397" y="507.69" text-anchor="end" font-size="10.0">0</text>
<line x1="414.6" y1="519.4" x2="414.6" y2="514.9" stroke="#333" stroke-width="1.2"/>
<text x="414.6" y="532" text-anchor="middle" font-size="10.0">10</text>
<line x1="480.77" y1="519.4" x2="480.77" y2="514.9" stroke="#333" stroke-width="1.2"/>
<text x="480.77" y="532" text-anchor="middle" font-size="10.0">20</text>
<line x1="546.94" y1="519.4" x2="546.94" y2="514.9" stroke="#333" stroke-width="1.2"/>
<text x="546.94" y="532" text-anchor="middle" font-size="10.0">30</text>
<line x1="613.11" y1="519.4" x2="613.11" y2="514.9" stroke="#333" stroke-width="1.2"/>
<text x="613.11" y="532" text-anchor="middle" font-size="10.0">40</text>
<text x="679.28" y="532" text-anchor="middle" font-size="10.0">50</text>
<polyline points="407.4,495.3 422.9,497.5 436.4,498.3 447,499 458.5,499.2 468.2,491 478.5,474.6 488.2,449 497.8,419 507.3,389.3 516.4,363.3 524.6,344.4 533.5,331.1 541.7,319.8 550.8,313.7 560.2,313.9 570.2,318.5 580.5,324.6 591.3,332.2 602.3,342.7 614.1,360 626.4,383.4 640.1,406.8 655.2,422.9 673.3,427.8" fill="none" stroke="#515151" stroke-width="1.15" stroke-linejoin="round"/>
<rect x="405" y="492.9" width="4.8" height="4.8" fill="#515151"/>
<rect x="420.5" y="495.1" width="4.8" height="4.8" fill="#515151"/>
<rect x="434" y="495.9" width="4.8" height="4.8" fill="#515151"/>
<rect x="444.6" y="496.6" width="4.8" height="4.8" fill="#515151"/>
<rect x="456.1" y="496.8" width="4.8" height="4.8" fill="#515151"/>
<rect x="465.8" y="488.6" width="4.8" height="4.8" fill="#515151"/>
<rect x="476.1" y="472.2" width="4.8" height="4.8" fill="#515151"/>
<rect x="485.8" y="446.6" width="4.8" height="4.8" fill="#515151"/>
<rect x="495.4" y="416.6" width="4.8" height="4.8" fill="#515151"/>
<rect x="504.9" y="386.9" width="4.8" height="4.8" fill="#515151"/>
<rect x="514" y="360.9" width="4.8" height="4.8" fill="#515151"/>
<rect x="522.2" y="342" width="4.8" height="4.8" fill="#515151"/>
<rect x="531.1" y="328.7" width="4.8" height="4.8" fill="#515151"/>
<rect x="539.3" y="317.4" width="4.8" height="4.8" fill="#515151"/>
<rect x="548.4" y="311.3" width="4.8" height="4.8" fill="#515151"/>
<rect x="557.8" y="311.5" width="4.8" height="4.8" fill="#515151"/>
<rect x="567.8" y="316.1" width="4.8" height="4.8" fill="#515151"/>
<rect x="578.1" y="322.2" width="4.8" height="4.8" fill="#515151"/>
<rect x="588.9" y="329.8" width="4.8" height="4.8" fill="#515151"/>
<rect x="599.9" y="340.3" width="4.8" height="4.8" fill="#515151"/>
<rect x="611.7" y="357.6" width="4.8" height="4.8" fill="#515151"/>
<rect x="624" y="381" width="4.8" height="4.8" fill="#515151"/>
<rect x="637.7" y="404.4" width="4.8" height="4.8" fill="#515151"/>
<rect x="652.8" y="420.5" width="4.8" height="4.8" fill="#515151"/>
<rect x="670.9" y="425.4" width="4.8" height="4.8" fill="#515151"/>
<polyline points="407.5,496.4 420.5,496.4 429.4,498 437.7,498.8 446.4,500 454.2,499.8 461.5,494.6 468.7,484.8 477.5,467.7 487.6,445.9 497.7,421.6 507.9,399 518.4,379.4 529.4,365.1 539.2,355.1 550.3,349.7 561.1,348.4 572,349.9 582.6,353.6 593.5,360.9 603.7,372.4 614.2,386.9 624.5,402.4 634.6,415 644.1,422.6 651.9,424.6" fill="none" stroke="#F14040" stroke-width="1.15" stroke-linejoin="round"/>
<circle cx="407.5" cy="496.4" r="2.75" fill="#F14040"/>
<circle cx="420.5" cy="496.4" r="2.75" fill="#F14040"/>
<circle cx="429.4" cy="498" r="2.75" fill="#F14040"/>
<circle cx="437.7" cy="498.8" r="2.75" fill="#F14040"/>
<circle cx="446.4" cy="500" r="2.75" fill="#F14040"/>
<circle cx="454.2" cy="499.8" r="2.75" fill="#F14040"/>
<circle cx="461.5" cy="494.6" r="2.75" fill="#F14040"/>
<circle cx="468.7" cy="484.8" r="2.75" fill="#F14040"/>
<circle cx="477.5" cy="467.7" r="2.75" fill="#F14040"/>
<circle cx="487.6" cy="445.9" r="2.75" fill="#F14040"/>
<circle cx="497.7" cy="421.6" r="2.75" fill="#F14040"/>
<circle cx="507.9" cy="399" r="2.75" fill="#F14040"/>
<circle cx="518.4" cy="379.4" r="2.75" fill="#F14040"/>
<circle cx="529.4" cy="365.1" r="2.75" fill="#F14040"/>
<circle cx="539.2" cy="355.1" r="2.75" fill="#F14040"/>
<circle cx="550.3" cy="349.7" r="2.75" fill="#F14040"/>
<circle cx="561.1" cy="348.4" r="2.75" fill="#F14040"/>
<circle cx="572" cy="349.9" r="2.75" fill="#F14040"/>
<circle cx="582.6" cy="353.6" r="2.75" fill="#F14040"/>
<circle cx="593.5" cy="360.9" r="2.75" fill="#F14040"/>
<circle cx="603.7" cy="372.4" r="2.75" fill="#F14040"/>
<circle cx="614.2" cy="386.9" r="2.75" fill="#F14040"/>
<circle cx="624.5" cy="402.4" r="2.75" fill="#F14040"/>
<circle cx="634.6" cy="415" r="2.75" fill="#F14040"/>
<circle cx="644.1" cy="422.6" r="2.75" fill="#F14040"/>
<circle cx="651.9" cy="424.6" r="2.75" fill="#F14040"/>
<polyline points="407.7,497 415.7,497.2 424.3,497.7 432.9,498.6 440.9,499 447.8,498.7 454.6,496.2 461.4,488.7 469.8,476.2 479.2,457.4 490.2,434.7 500.3,411.9 512.8,392.3 525.1,377.4 537.4,366.3 549.4,359.9 561.1,358.4 572.5,359.6 583.8,363.8 594.8,372 605.1,382.9 614.8,396.4 623.6,408.4 630.1,417.7 636.5,422.4" fill="none" stroke="#1A6FDF" stroke-width="1.15" stroke-linejoin="round"/>
<path d="M407.7 493.3L411 499.1L404.4 499.1Z" fill="#1A6FDF"/>
<path d="M415.7 493.5L419 499.3L412.4 499.3Z" fill="#1A6FDF"/>
<path d="M424.3 494L427.6 499.8L421 499.8Z" fill="#1A6FDF"/>
<path d="M432.9 494.9L436.2 500.7L429.6 500.7Z" fill="#1A6FDF"/>
<path d="M440.9 495.3L444.2 501.1L437.6 501.1Z" fill="#1A6FDF"/>
<path d="M447.8 495L451.1 500.8L444.5 500.8Z" fill="#1A6FDF"/>
<path d="M454.6 492.5L457.9 498.3L451.3 498.3Z" fill="#1A6FDF"/>
<path d="M461.4 485L464.7 490.8L458.1 490.8Z" fill="#1A6FDF"/>
<path d="M469.8 472.5L473.1 478.3L466.5 478.3Z" fill="#1A6FDF"/>
<path d="M479.2 453.7L482.5 459.5L475.9 459.5Z" fill="#1A6FDF"/>
<path d="M490.2 431L493.5 436.8L486.9 436.8Z" fill="#1A6FDF"/>
<path d="M500.3 408.2L503.6 414L497 414Z" fill="#1A6FDF"/>
<path d="M512.8 388.6L516.1 394.4L509.5 394.4Z" fill="#1A6FDF"/>
<path d="M525.1 373.7L528.4 379.5L521.8 379.5Z" fill="#1A6FDF"/>
<path d="M537.4 362.6L540.7 368.4L534.1 368.4Z" fill="#1A6FDF"/>
<path d="M549.4 356.2L552.7 362L546.1 362Z" fill="#1A6FDF"/>
<path d="M561.1 354.7L564.4 360.5L557.8 360.5Z" fill="#1A6FDF"/>
<path d="M572.5 355.9L575.8 361.7L569.2 361.7Z" fill="#1A6FDF"/>
<path d="M583.8 360.1L587.1 365.9L580.5 365.9Z" fill="#1A6FDF"/>
<path d="M594.8 368.3L598.1 374.1L591.5 374.1Z" fill="#1A6FDF"/>
<path d="M605.1 379.2L608.4 385L601.8 385Z" fill="#1A6FDF"/>
<path d="M614.8 392.7L618.1 398.5L611.5 398.5Z" fill="#1A6FDF"/>
<path d="M623.6 404.7L626.9 410.5L620.3 410.5Z" fill="#1A6FDF"/>
<path d="M630.1 414L633.4 419.8L626.8 419.8Z" fill="#1A6FDF"/>
<path d="M636.5 418.7L639.8 424.5L633.2 424.5Z" fill="#1A6FDF"/>
<line x1="597.2" y1="303.3" x2="620.9" y2="303.3" stroke="#515151" stroke-width="1.4"/>
<rect x="606.65" y="300.9" width="4.8" height="4.8" fill="#515151"/>
<text x="625.8" y="306.9" font-size="11.4">PEEQ-Out</text>
<line x1="597.2" y1="318.6" x2="620.9" y2="318.6" stroke="#F14040" stroke-width="1.4"/>
<circle cx="609.05" cy="318.6" r="2.75" fill="#F14040"/>
<text x="625.8" y="322.2" font-size="11.4">PEEQ-Mid</text>
<line x1="597.2" y1="333.9" x2="620.9" y2="333.9" stroke="#1A6FDF" stroke-width="1.4"/>
<path d="M609.05 330.5L612.05 335.7L606.05 335.7Z" fill="#1A6FDF"/>
<text x="625.8" y="337.5" font-size="11.4">PEEQ-In</text>
<text x="422.4" y="461.9" font-size="11.65">Zone I</text>
<text x="500.2" y="460.1" font-size="11.65">Zone II</text>
<text x="576.3" y="460.1" font-size="11.65">Zone III</text>
<text x="351.6" y="312.7" font-size="18.4">(d)</text>
<text transform="translate(382.4,407.4) rotate(-90)" text-anchor="middle" font-size="11.5">Strain</text>
<text x="545.8" y="546.7" text-anchor="middle" font-size="11.5">Axial position/(mm)</text>
</svg>
</body></html>
